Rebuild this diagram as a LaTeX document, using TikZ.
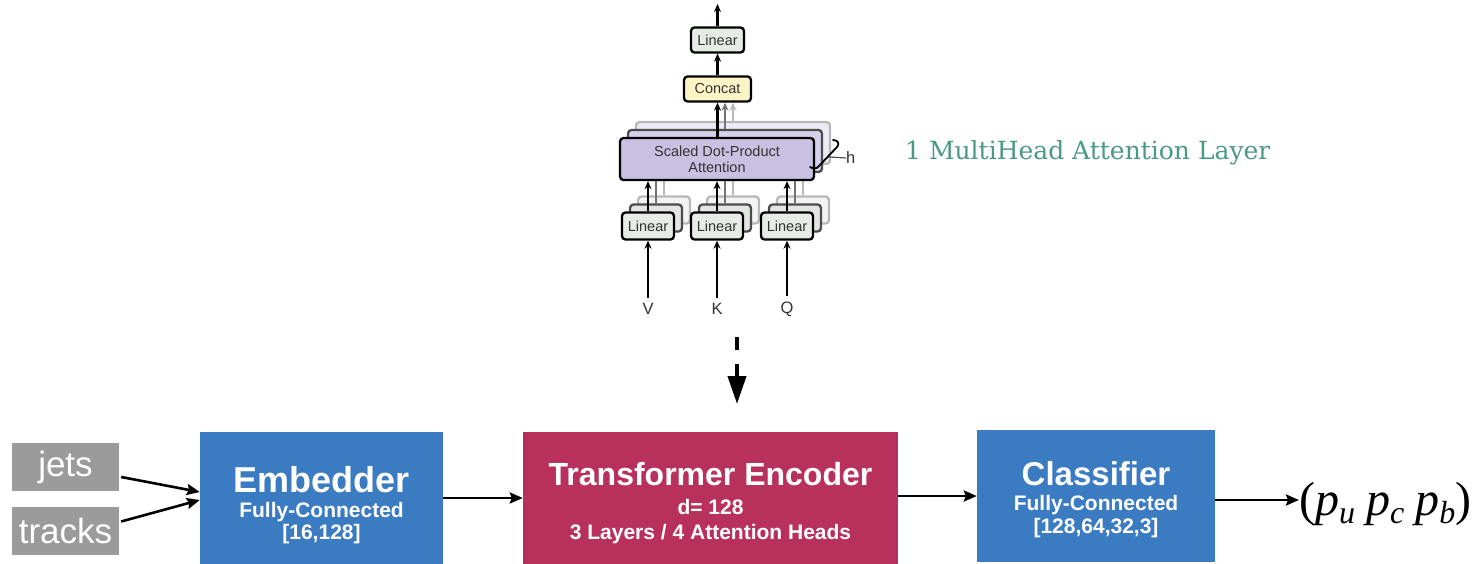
\documentclass[tikz,border=0pt]{standalone}
\usepackage{fontspec}
\setmainfont{Liberation Sans}
\newfontfamily\serifx{Liberation Serif}
\newfontfamily\titlefont{DejaVu Serif}
\usetikzlibrary{arrows.meta}
\definecolor{boxgray}{HTML}{9B9B9B}
\definecolor{blkblue}{HTML}{3A7BC1}
\definecolor{crim}{HTML}{B8315D}
\definecolor{tealx}{HTML}{4A9985}
\definecolor{linfill}{HTML}{E7EBE6}
\definecolor{linM}{HTML}{E2E5E1}
\definecolor{linB}{HTML}{F2F3F2}
\definecolor{catfill}{HTML}{FBF5C5}
\definecolor{sdfill}{HTML}{C8C1E1}
\definecolor{sdM}{HTML}{D6D1EA}
\definecolor{sdB}{HTML}{ECEAF4}
\newcommand{\sbx}[1]{\raisebox{-8pt}{\fontsize{32}{34}\selectfont\itshape #1}}
\begin{document}
\begin{tikzpicture}[x=1pt,y=-1pt,
  ab/.style={draw=black,line width=2.3pt,rounded corners=3.5pt,inner sep=0pt,text=black!80,font=\fontsize{14.5}{17}\selectfont,align=center},
  abM/.style={draw=black!70,line width=2.3pt,rounded corners=3.5pt,inner sep=0pt},
  abB/.style={draw=black!28,line width=2.3pt,rounded corners=3.5pt,inner sep=0pt},
  linsz/.style={minimum width=52pt,minimum height=27pt},
  sdsz/.style={minimum width=194pt,minimum height=42pt},
  ar/.style={line width=2.4pt,-{Stealth[length=8pt,width=7pt]}},
  arM/.style={ar,draw=black!55},
  arB/.style={ar,draw=black!28},
  lbl/.style={inner sep=0pt,text=black!80,font=\fontsize{16.5}{19}\selectfont},
  blk/.style={inner sep=0pt},
  ttl/.style={text=white,font=\bfseries\fontsize{33}{36}\selectfont,anchor=base,inner sep=0pt},
  sub/.style={text=white,font=\bfseries\fontsize{21}{24}\selectfont,anchor=base,inner sep=0pt},
  inbox/.style={fill=boxgray,inner sep=0pt,minimum width=107pt,minimum height=48pt,text=white,font=\fontsize{35}{37}\selectfont},
  barr/.style={line width=2.6pt,-{Stealth[length=13pt,width=11pt,inset=2pt]}},
]
\useasboundingbox (0,0) rectangle (1477,564);

% ---------- attention block: top part ----------
\node[ab,fill=linfill,minimum width=53pt,minimum height=25pt] (tlin) at (717.5,40) {Linear};
\node[ab,fill=catfill,minimum width=67pt,minimum height=25pt] (cat) at (717.5,89) {Concat};
\coordinate (out) at (717.5,4);

% back layer
\node[abB,sdsz,fill=sdB] (sdb) at (733,143) {};
\node[abB,linsz,fill=linB] (l1b) at (664,210) {};
\node[abB,linsz,fill=linB] (l2b) at (733,210) {};
\node[abB,linsz,fill=linB] (l3b) at (803,210) {};
\draw[arB] (l1b.north) -- (l1b.north |- sdb.south);
\draw[arB] (l2b.north) -- (l2b.north |- sdb.south);
\draw[arB] (l3b.north) -- (l3b.north |- sdb.south);
\draw[arB] (sdb.north) -- (sdb.north |- cat.south);

% middle layer
\node[abM,sdsz,fill=sdM] (sdm) at (725,151) {};
\node[abM,linsz,fill=linM] (l1m) at (656,218) {};
\node[abM,linsz,fill=linM] (l2m) at (725,218) {};
\node[abM,linsz,fill=linM] (l3m) at (795,218) {};
\draw[arM] (l1m.north) -- (l1m.north |- sdm.south);
\draw[arM] (l2m.north) -- (l2m.north |- sdm.south);
\draw[arM] (l3m.north) -- (l3m.north |- sdm.south);
\draw[arM] (sdm.north) -- (sdm.north |- cat.south);

% front layer
\node[ab,sdsz,fill=sdfill] (sd) at (717,159) {Scaled Dot-Product\\[-1pt]Attention};
\node[ab,linsz,fill=linfill] (l1) at (648,226) {Linear};
\node[ab,linsz,fill=linfill] (l2) at (717,226) {Linear};
\node[ab,linsz,fill=linfill] (l3) at (787,226) {Linear};
\draw[ar] (l1.north) -- (l1.north |- sd.south);
\draw[ar] (l2.north) -- (l2.north |- sd.south);
\draw[ar] (l3.north) -- (l3.north |- sd.south);
\draw[ar] (sd.north -| cat.south) -- (cat.south);
\draw[ar] (cat.north) -- (tlin.south);
\draw[ar] (tlin.north) -- (out);

% inputs
\node[lbl] (V) at (648,309) {V};
\node[lbl] (K) at (717,309) {K};
\node[lbl] (Q) at (787,309) {Q};
\draw[ar,shorten <=5pt] (V.north) -- (l1.south);
\draw[ar,shorten <=5pt] (K.north) -- (l2.south);
\draw[ar,shorten <=5pt] (Q.north) -- (l3.south);

% h brace
\draw[line width=1.8pt,line cap=round,line join=round] (833,140) .. controls (838,140) and (840,144) .. (837,147) -- (819,166) .. controls (817,169) and (813,169) .. (810,167);
\coordinate (hs) at (829,157);
\node[lbl,anchor=west] (h) at (846,158) {h};
\draw[line width=1.2pt,black!70] (hs) -- (h.west);

% title
\node[anchor=base west,inner sep=0pt,text=tealx,font=\titlefont\fontsize{25}{29}\selectfont] (mhal) at (905,160) {1 MultiHead Attention Layer};

% dashed arrow
\coordinate (d1) at (737,337);
\coordinate (d2) at (737,350);
\coordinate (d3) at (737,364);
\coordinate (d4) at (737,404);
\draw[line width=4pt] (d1) -- (d2);
\draw[line width=4pt,-{Triangle[length=28pt,width=18pt]}] (d3) -- (d4);

% ---------- bottom row ----------
\node[inbox] (jets) at (65.5,467) {jets};
\node[inbox] (tracks) at (65.5,530.5) {tracks};

\node[blk,fill=blkblue,minimum width=243pt,minimum height=132pt] (emb) at (321.5,498) {};
\node[ttl,font=\bfseries\fontsize{36}{38}\selectfont] (embt) at (321.5,492) {Embedder};
\node[sub] (embs1) at (321.5,517) {Fully-Connected};
\node[sub] (embs2) at (321.5,539) {[16,128]};

\node[blk,fill=crim,minimum width=375pt,minimum height=132pt] (enc) at (710.5,498) {};
\node[ttl,font=\bfseries\fontsize{32}{35}\selectfont] (enct) at (710.5,485) {Transformer Encoder};
\node[sub] (encs1) at (710.5,514) {d= 128};
\node[sub] (encs2) at (710.5,539) {3 Layers / 4 Attention Heads};

\node[blk,fill=blkblue,minimum width=238pt,minimum height=132pt] (cls) at (1096,496) {};
\node[ttl] (clst) at (1096,485) {Classifier};
\node[sub] (clss1) at (1096,510) {Fully-Connected};
\node[sub] (clss2) at (1096,533) {[128,64,32,3]};

\node[anchor=base west,inner sep=0pt,font=\serifx\fontsize{48}{50}\selectfont] (outp) at (1299,515)
  {({\itshape p}\sbx{u}\hspace{11pt}{\itshape p}\sbx{c}\hspace{11pt}{\itshape p}\sbx{b})};

\draw[barr] ([xshift=2pt,yshift=-10pt]jets.east) -- ([yshift=6pt]emb.west);
\draw[barr] ([xshift=2pt,yshift=9pt]tracks.east) -- ([yshift=-2pt]emb.west);
\draw[barr] (emb.east) -- (enc.west);
\draw[barr] (enc.east |- cls.west) -- (cls.west);
\draw[barr] ([yshift=-4pt]cls.east) -- ([yshift=-4pt]cls.east -| outp.west);
\end{tikzpicture}
\end{document}
